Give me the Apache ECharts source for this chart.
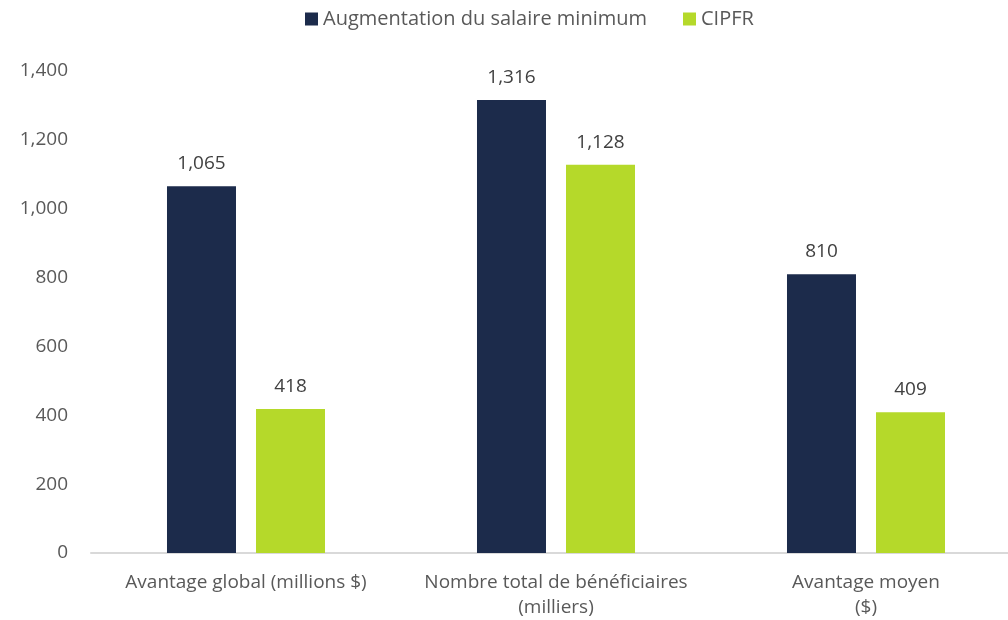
<!DOCTYPE html>
<html>
<head>
<meta charset="utf-8">
<script src="https://cdn.jsdelivr.net/npm/echarts@6/dist/echarts.min.js"></script>
<style>
html,body{margin:0;padding:0;background:#fff;overflow:hidden;width:1008px;height:620px;}
#chart{width:1030px;height:620px;}
</style>
</head>
<body>
<div id="chart"></div>
<script>
const categories = ['Avantage global (millions $)', 'Nombre total de bénéficiaires\n(milliers)', 'Avantage moyen\n($)'];
const seriesNames = ['Augmentation du salaire minimum', 'CIPFR'];
const minWage = [1065, 1316, 810];
const cipfr = [418, 1128, 409];
const colors = ['#1c2b4b', '#b5d92a'];

const font = '"Open Sans", "Noto Sans", sans-serif';
const chart = echarts.init(document.getElementById('chart'));
const fmt = v => v.toLocaleString('en-US');
const labelCfg = {
  show: true, position: 'top', distance: 13,
  color: '#404040', fontFamily: font, fontSize: 19,
  formatter: p => fmt(p.value)
};
chart.setOption({
  animation: false,
  textStyle: { fontFamily: font },
  legend: {
    top: 4, left: 300, itemWidth: 13, itemHeight: 13, itemGap: 36,
    icon: 'rect',
    textStyle: { color: '#595959', fontSize: 20, fontFamily: font },
    data: seriesNames
  },
  grid: { left: 91, width: 930, top: 71, bottom: 66, containLabel: false },
  xAxis: {
    type: 'category', data: categories,
    axisLine: { lineStyle: { color: '#d9d9d9', width: 2 } },
    axisTick: { show: false },
    axisLabel: { interval: 0, color: '#595959', fontSize: 19, fontFamily: font, margin: 17, lineHeight: 25 }
  },
  yAxis: {
    type: 'value', min: 0, max: 1400, interval: 200,
    axisLine: { show: false }, axisTick: { show: false },
    splitLine: { show: false },
    axisLabel: { color: '#595959', fontSize: 19, fontFamily: font, margin: 23, formatter: fmt }
  },
  series: [
    { name: seriesNames[0], type: 'bar', data: minWage, barWidth: 69, barGap: '29%',
      itemStyle: { color: colors[0] }, label: labelCfg },
    { name: seriesNames[1], type: 'bar', data: cipfr, barWidth: 69, barGap: '29%',
      itemStyle: { color: colors[1] }, label: labelCfg }
  ]
});
</script>
</body>
</html>
